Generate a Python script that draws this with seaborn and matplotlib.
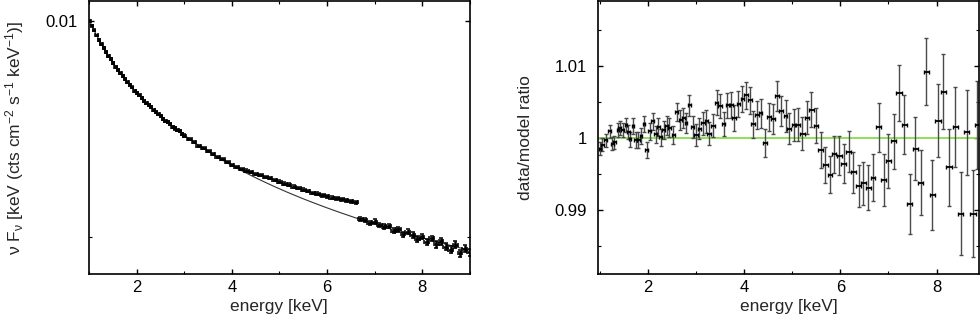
import matplotlib
matplotlib.use("Agg")
import matplotlib.pyplot as plt
import numpy as np
import pandas as pd
import seaborn as sns
from matplotlib.ticker import MultipleLocator, NullFormatter

# left panel: unfolded spectrum (flux in units of 1e-3)
energy = [
    1.00, 1.05, 1.10, 1.15, 1.20, 1.25, 1.30, 1.35, 1.40, 1.45,
    1.50, 1.55, 1.60, 1.65, 1.70, 1.75, 1.80, 1.85, 1.90, 1.95,
    2.00, 2.05, 2.10, 2.15, 2.20, 2.25, 2.30, 2.35, 2.40, 2.45,
    2.50, 2.55, 2.60, 2.65, 2.70, 2.75, 2.80, 2.85, 2.90, 2.95, 3.00,
    3.1, 3.2, 3.3, 3.4, 3.5, 3.6, 3.7, 3.8, 3.9,
    4.0, 4.1, 4.2, 4.3, 4.4, 4.5, 4.6, 4.7, 4.8, 4.9,
    5.0, 5.1, 5.2, 5.3, 5.4, 5.5, 5.6, 5.7, 5.8, 5.9,
    6.0, 6.1, 6.2, 6.3, 6.4, 6.5, 6.6,
    6.7, 6.8, 6.9, 7.0, 7.1, 7.2, 7.3, 7.4,
    7.5, 7.6, 7.7, 7.8, 7.9, 8.0, 8.1, 8.2,
    8.3, 8.4, 8.5, 8.6, 8.7, 8.8, 8.9, 9.0,
]
flux = [
    10.00, 9.843, 9.690, 9.536, 9.401, 9.288, 9.165, 9.037, 8.930, 8.838,
    8.738, 8.629, 8.536, 8.463, 8.377, 8.284, 8.208, 8.146, 8.072, 7.989,
    7.921, 7.871, 7.806, 7.731, 7.676, 7.628, 7.572, 7.504, 7.452, 7.415,
    7.366, 7.301, 7.258, 7.222, 7.181, 7.118, 7.079, 7.049, 7.012, 6.953, 6.917,
    6.853, 6.781, 6.700, 6.652, 6.580, 6.524, 6.459, 6.409, 6.352,
    6.303, 6.262, 6.215, 6.185, 6.153, 6.120, 6.097, 6.058, 6.036, 5.993,
    5.970, 5.928, 5.910, 5.870, 5.846, 5.815, 5.793, 5.757, 5.742, 5.713,
    5.697, 5.672, 5.657, 5.636, 5.624, 5.600, 5.588,
    5.300, 5.281, 5.230, 5.252, 5.190, 5.168, 5.175, 5.102,
    5.121, 5.041, 5.083, 5.032, 4.968, 5.005, 4.920, 4.975,
    4.885, 4.930, 4.842, 4.800, 4.872, 4.745, 4.812, 4.760,
]
flux_err = [
    0.025, 0.025, 0.025, 0.025, 0.025, 0.025, 0.025, 0.025, 0.025, 0.025,
    0.025, 0.025, 0.025, 0.025, 0.025, 0.025, 0.025, 0.025, 0.025, 0.025,
    0.025, 0.025, 0.025, 0.025, 0.025, 0.025, 0.025, 0.025, 0.025, 0.025,
    0.025, 0.025, 0.025, 0.025, 0.025, 0.025, 0.025, 0.025, 0.025, 0.025, 0.025,
    0.022, 0.022, 0.022, 0.022, 0.022, 0.022, 0.022, 0.022, 0.022,
    0.022, 0.022, 0.022, 0.022, 0.022, 0.022, 0.022, 0.022, 0.022, 0.022,
    0.025, 0.025, 0.025, 0.025, 0.025, 0.025, 0.025, 0.025, 0.025, 0.025,
    0.028, 0.028, 0.028, 0.028, 0.028, 0.028, 0.028,
    0.035, 0.035, 0.035, 0.035, 0.035, 0.035, 0.035, 0.035,
    0.045, 0.045, 0.045, 0.045, 0.045, 0.045, 0.045, 0.045,
    0.055, 0.055, 0.055, 0.055, 0.055, 0.055, 0.055, 0.055,
]
flux_xerr = [
    0.025, 0.025, 0.025, 0.025, 0.025, 0.025, 0.025, 0.025, 0.025, 0.025,
    0.025, 0.025, 0.025, 0.025, 0.025, 0.025, 0.025, 0.025, 0.025, 0.025,
    0.025, 0.025, 0.025, 0.025, 0.025, 0.025, 0.025, 0.025, 0.025, 0.025,
    0.025, 0.025, 0.025, 0.025, 0.025, 0.025, 0.025, 0.025, 0.025, 0.025, 0.025,
    0.05, 0.05, 0.05, 0.05, 0.05, 0.05, 0.05, 0.05, 0.05,
    0.05, 0.05, 0.05, 0.05, 0.05, 0.05, 0.05, 0.05, 0.05, 0.05,
    0.05, 0.05, 0.05, 0.05, 0.05, 0.05, 0.05, 0.05, 0.05, 0.05,
    0.05, 0.05, 0.05, 0.05, 0.05, 0.05, 0.05,
    0.05, 0.05, 0.05, 0.05, 0.05, 0.05, 0.05, 0.05,
    0.05, 0.05, 0.05, 0.05, 0.05, 0.05, 0.05, 0.05,
    0.05, 0.05, 0.05, 0.05, 0.05, 0.05, 0.05, 0.05,
]

model_energy = [
    1.0, 1.1, 1.2, 1.3, 1.4, 1.5, 1.6, 1.7, 1.8, 1.9,
    2.0, 2.1, 2.2, 2.3, 2.4, 2.5, 2.6, 2.7, 2.8, 2.9,
    3.0, 3.1, 3.2, 3.3, 3.4, 3.5, 3.6, 3.7, 3.8, 3.9,
    4.0, 4.1, 4.2, 4.3, 4.4, 4.5, 4.6, 4.7, 4.8, 4.9,
    5.0, 5.1, 5.2, 5.3, 5.4, 5.5, 5.6, 5.7, 5.8, 5.9,
    6.0, 6.1, 6.2, 6.3, 6.4, 6.5, 6.6, 6.7, 6.8, 6.9,
    7.0, 7.1, 7.2, 7.3, 7.4, 7.5, 7.6, 7.7, 7.8, 7.9,
    8.0, 8.1, 8.2, 8.3, 8.4, 8.5, 8.6, 8.7, 8.8, 8.9, 9.0,
]
model_flux = [
    10.00, 9.686, 9.408, 9.159, 8.934, 8.730, 8.543, 8.371, 8.213, 8.065,
    7.928, 7.799, 7.679, 7.565, 7.458, 7.357, 7.261, 7.170, 7.083, 7.000,
    6.921, 6.846, 6.773, 6.703, 6.637, 6.573, 6.511, 6.451, 6.394, 6.339,
    6.285, 6.233, 6.183, 6.135, 6.088, 6.042, 5.998, 5.955, 5.913, 5.872,
    5.833, 5.794, 5.756, 5.720, 5.684, 5.649, 5.615, 5.582, 5.550, 5.518,
    5.487, 5.457, 5.427, 5.398, 5.370, 5.342, 5.314, 5.288, 5.262, 5.236,
    5.211, 5.186, 5.162, 5.138, 5.115, 5.092, 5.069, 5.047, 5.025, 5.004,
    4.983, 4.962, 4.942, 4.922, 4.902, 4.883, 4.864, 4.845, 4.826, 4.808, 4.790,
]

# right panel: data/model ratio
ratio_energy = [
    1.00, 1.05, 1.12, 1.20, 1.26, 1.30, 1.37, 1.41, 1.47, 1.54, 1.59, 1.63, 1.69, 1.74, 1.80, 1.85, 1.92, 1.97,
    2.04, 2.10, 2.16, 2.21, 2.26, 2.33, 2.39, 2.44, 2.53, 2.60, 2.67, 2.73, 2.79, 2.86, 2.93,
    3.00, 3.07, 3.14, 3.21, 3.27, 3.35, 3.43, 3.50, 3.57, 3.65, 3.73, 3.79, 3.88, 3.96,
    4.04, 4.12, 4.19, 4.27, 4.34, 4.44, 4.52, 4.60, 4.69, 4.77, 4.86, 4.94,
    5.04, 5.11, 5.21, 5.31, 5.40, 5.49, 5.59, 5.69, 5.78, 5.87, 5.98,
    6.07, 6.17, 6.27, 6.38, 6.48, 6.58, 6.68, 6.80, 6.90,
    7.00, 7.11, 7.22, 7.33, 7.44, 7.56, 7.67, 7.79, 7.91,
    8.03, 8.14, 8.26, 8.39, 8.50, 8.63, 8.76, 8.85,
]
ratio = [
    0.99848, 0.99907, 0.99970, 1.00090, 0.99920, 0.99940, 1.00110, 1.00140, 1.00110,
    1.00180, 1.00080, 0.99980, 1.00170, 0.99970, 0.99970, 1.00030, 1.00190, 0.99830,
    1.00090, 1.00230, 1.00050, 1.00150, 1.00010, 1.00110, 1.00170, 1.00140, 1.00040,
    1.00360, 1.00250, 1.00280, 1.00210, 1.00450, 1.00150,
    1.00040, 1.00130, 1.00200, 1.00230, 1.00060, 1.00170, 1.00490, 1.00440, 1.00190,
    1.00450, 1.00450, 1.00280, 1.00470, 1.00540,
    1.00590, 1.00520, 1.00190, 1.00320, 1.00340, 0.99930, 1.00290, 1.00260, 1.00580,
    1.00370, 1.00300, 1.00130,
    1.00180, 1.00180, 1.00060, 1.00280, 1.00390, 1.00170, 0.99830, 0.99630, 0.99490,
    0.99770, 0.99750,
    0.99640, 0.99810, 0.99520, 0.99330, 0.99370, 0.99310, 0.99450, 1.00150, 0.99410,
    0.99680, 0.99950, 1.00620, 1.00180, 0.99080, 0.99850, 0.99380, 1.00920, 0.99210,
    1.00240, 1.00640, 0.99590, 1.00150, 0.98950, 1.00080, 0.98950, 1.00180,
]
ratio_err = [
    0.0009, 0.0009, 0.0009, 0.0009, 0.0009, 0.0009, 0.0010, 0.0010, 0.0010,
    0.0010, 0.0010, 0.0010, 0.0011, 0.0011, 0.0011, 0.0011, 0.0011, 0.0011,
    0.0012, 0.0012, 0.0012, 0.0012, 0.0012, 0.0012, 0.0013, 0.0013, 0.0013,
    0.0013, 0.0014, 0.0014, 0.0014, 0.0014, 0.0015,
    0.0015, 0.0015, 0.0016, 0.0016, 0.0016, 0.0016, 0.0017, 0.0017, 0.0017,
    0.0017, 0.0018, 0.0018, 0.0018, 0.0018,
    0.0019, 0.0019, 0.0019, 0.0019, 0.0020, 0.0020, 0.0020, 0.0021, 0.0021,
    0.0021, 0.0022, 0.0022,
    0.0022, 0.0023, 0.0023, 0.0023, 0.0024, 0.0024, 0.0025, 0.0025, 0.0026,
    0.0026, 0.0027,
    0.0027, 0.0028, 0.0028, 0.0029, 0.0030, 0.0031, 0.0032, 0.0034, 0.0036,
    0.0037, 0.0038, 0.0039, 0.0041, 0.0042, 0.0044, 0.0045, 0.0047, 0.0049,
    0.0051, 0.0052, 0.0054, 0.0055, 0.0057, 0.0059, 0.0060, 0.0061,
]
ratio_xerr = [
    0.025, 0.025, 0.025, 0.025, 0.025, 0.025, 0.025, 0.025, 0.025,
    0.025, 0.025, 0.025, 0.025, 0.025, 0.025, 0.025, 0.025, 0.025,
    0.03, 0.03, 0.03, 0.03, 0.03, 0.03, 0.03, 0.03, 0.03,
    0.03, 0.03, 0.03, 0.03, 0.03, 0.03,
    0.035, 0.035, 0.035, 0.035, 0.035, 0.035, 0.035, 0.035, 0.035,
    0.035, 0.035, 0.035, 0.035, 0.035,
    0.04, 0.04, 0.04, 0.04, 0.04, 0.04, 0.04, 0.04, 0.04,
    0.04, 0.04, 0.04,
    0.045, 0.045, 0.045, 0.045, 0.045, 0.045, 0.045, 0.045, 0.045,
    0.045, 0.045,
    0.05, 0.05, 0.05, 0.05, 0.05, 0.05, 0.05, 0.05, 0.05,
    0.055, 0.055, 0.055, 0.055, 0.055, 0.055, 0.055, 0.055, 0.055,
    0.055, 0.055, 0.055, 0.055, 0.055, 0.055, 0.055, 0.055,
]
ratio_ref = 1.0

sns.set_theme(style="ticks")
plt.rcParams["font.family"] = ["Liberation Sans", "DejaVu Sans"]
plt.rcParams["mathtext.fontset"] = "custom"
plt.rcParams["mathtext.rm"] = "Liberation Sans"
plt.rcParams["mathtext.it"] = "Liberation Sans:italic"
plt.rcParams["axes.linewidth"] = 1.2
plt.rcParams["axes.edgecolor"] = "black"

spec = pd.DataFrame({
    "energy": energy,
    "flux": np.array(flux) * 1e-3,
    "flux_err": np.array(flux_err) * 1e-3,
    "xerr": flux_xerr,
})
model = pd.DataFrame({"energy": model_energy, "model": np.array(model_flux) * 1e-3})
rat = pd.DataFrame({
    "energy": ratio_energy,
    "ratio": ratio,
    "err": ratio_err,
    "xerr": ratio_xerr,
})

fig = plt.figure(figsize=(9.8, 3.25), dpi=100)
ax1 = fig.add_axes([0.0908, 0.156, 0.3883, 0.841])
ax2 = fig.add_axes([0.6107, 0.156, 0.3886, 0.841])

# left: spectrum and model
sns.lineplot(data=model, x="energy", y="model", ax=ax1, color="#333333", lw=0.8)
ax1.errorbar(spec["energy"], spec["flux"], yerr=spec["flux_err"], xerr=spec["xerr"],
             fmt="none", ecolor="black", elinewidth=1.8, capsize=1.4, capthick=1.1)
ax1.set_yscale("log")
ax1.set_xlim(0.99, 9.0)
ax1.set_ylim(0.004434, 0.010652)
ax1.set_yticks([0.01], ["0.01"])
ax1.set_yticks([0.005], minor=True)
ax1.yaxis.set_minor_formatter(NullFormatter())
ax1.set_ylabel(r"ν F$_{\mathregular{ν}}$ [keV (cts cm$^{\mathregular{-2}}$ s$^{\mathregular{-1}}$ keV$^{\mathregular{-1}}$)]",
               fontsize=12.5, labelpad=14)

# right: ratio (vertical bars grey, horizontal bars black)
ax2.axhline(ratio_ref, color="#86dd4a", lw=1.3, zorder=1)
ax2.errorbar(rat["energy"], rat["ratio"], yerr=rat["err"],
             fmt="none", ecolor="#4a4a4a", elinewidth=1.0, capsize=1.6, capthick=1.0, zorder=2)
ax2.errorbar(rat["energy"], rat["ratio"], xerr=rat["xerr"],
             fmt="none", ecolor="black", elinewidth=1.3, capsize=1.3, capthick=1.0, zorder=3)
ax2.set_xlim(0.97, 8.89)
ax2.set_ylim(0.98107, 1.019)
ax2.set_yticks([0.99, 1.0, 1.01], ["0.99", "1", "1.01"])
ax2.set_yticks([0.985, 0.995, 1.005, 1.015], minor=True)
ax2.yaxis.set_minor_formatter(NullFormatter())
ax2.set_ylabel("data/model ratio", fontsize=12.5, labelpad=16)

for ax in (ax1, ax2):
    ax.xaxis.set_major_locator(MultipleLocator(2))
    ax.xaxis.set_minor_locator(MultipleLocator(1))
    ax.set_xticks([2, 4, 6, 8], ["2", "4", "6", "8"])
    ax.set_xlabel("energy [keV]", fontsize=12.5, labelpad=3)
    ax.tick_params(which="both", direction="in", top=True, right=True,
                   colors="black", labelsize=12)
    ax.tick_params(which="major", length=3.5, width=1.0)
    ax.tick_params(which="minor", length=2.5, width=0.8)
    ax.tick_params(axis="x", which="both", pad=4)
    ax.tick_params(axis="y", which="both", pad=8)
    for side in ax.spines.values():
        side.set_color("black")
        side.set_linewidth(1.2)

fig.savefig("out.png", dpi=100)
plt.close(fig)
